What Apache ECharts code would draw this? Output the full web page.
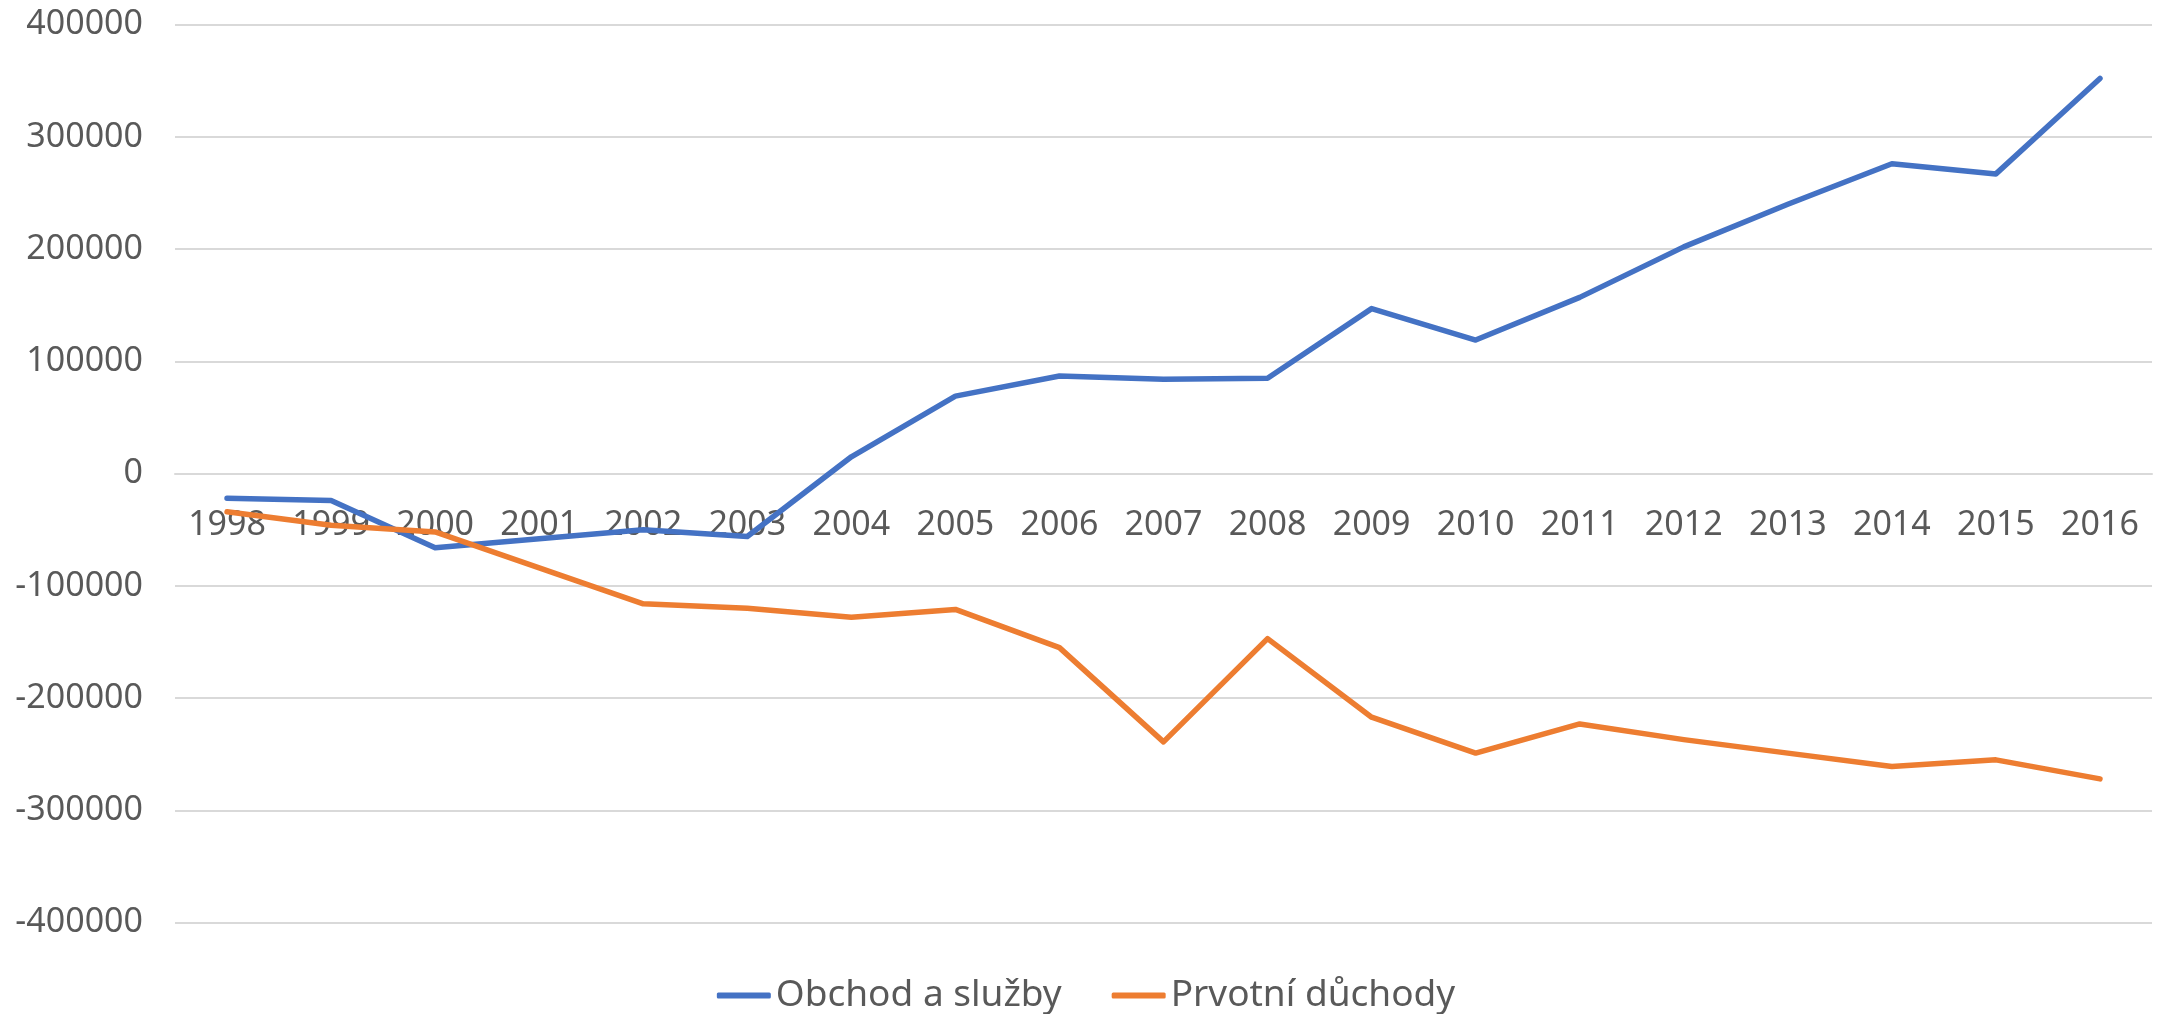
<!DOCTYPE html>
<html>
<head>
<meta charset="utf-8">
<script src="https://cdn.jsdelivr.net/npm/echarts@6/dist/echarts.min.js"></script>
<style>
html,body{margin:0;padding:0;background:#fff;}
#chart{width:2172px;height:1014px;}
</style>
</head>
<body>
<div id="chart"></div>
<script>
const years = ['1998','1999','2000','2001','2002','2003','2004','2005','2006','2007','2008','2009','2010','2011','2012','2013','2014','2015','2016'];
const obchodASluzby = [-22000,-24000,-66000,-58000,-50000,-56000,15000,69000,87000,84000,85000,147000,119000,157000,202000,240000,276000,267000,352000];
const prvotniDuchody = [-34000,-46000,-52000,-84000,-116000,-120000,-128000,-121000,-155000,-239000,-147000,-217000,-249000,-223000,-237000,-249000,-261000,-255000,-272000];
const seriesNames = ['Obchod a služby','Prvotní důchody'];

const chart = echarts.init(document.getElementById('chart'), null, {renderer:'canvas'});
chart.setOption({
  animation:false,
  backgroundColor:'#ffffff',
  grid:{left:175,right:20,top:24.6,bottom:91.4,containLabel:false},
  legend:{
    data:seriesNames,
    left:'center',
    top:972,
    icon:'roundRect',
    itemWidth:54,
    itemHeight:6,
    itemGap:50,
    textStyle:{fontFamily:'Noto Sans',fontSize:37,color:'#595959'}
  },
  xAxis:{
    type:'category',
    data:years,
    boundaryGap:true,
    offset:-449,
    axisLine:{show:true,onZero:false,lineStyle:{color:'#d9d9d9',width:2}},
    axisTick:{show:false},
    axisLabel:{margin:35,fontFamily:'Noto Sans',fontSize:34,color:'#595959',interval:0},
    splitLine:{show:false}
  },
  yAxis:{
    type:'value',
    min:-400000,max:400000,interval:100000,
    axisLine:{show:false},
    axisTick:{show:false},
    axisLabel:{margin:32,fontFamily:'Noto Sans',fontSize:34,color:'#595959',formatter:function(v){return String(v);}},
    splitLine:{show:true,lineStyle:{color:'#d9d9d9',width:2}}
  },
  series:[
    {name:seriesNames[0],type:'line',data:obchodASluzby,symbol:'none',
     lineStyle:{color:'#4472C4',width:5.5,cap:'round',join:'round'},itemStyle:{color:'#4472C4'}},
    {name:seriesNames[1],type:'line',data:prvotniDuchody,symbol:'none',
     lineStyle:{color:'#ED7D31',width:5.5,cap:'round',join:'round'},itemStyle:{color:'#ED7D31'}}
  ]
});
</script>
</body>
</html>
